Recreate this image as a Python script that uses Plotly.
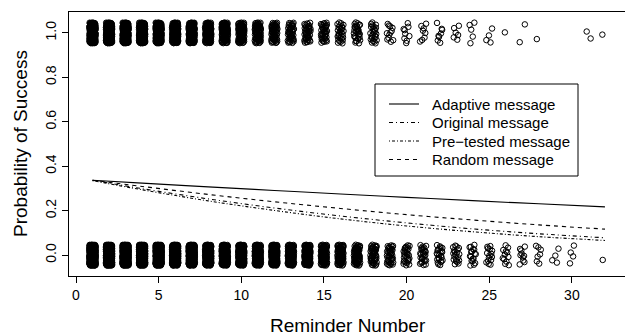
import plotly.graph_objects as go

# ---- data ----
reminder = list(range(1, 33))
success_counts = [180, 170, 160, 150, 140, 130, 120, 110, 100, 90, 70, 55, 45, 40,
                  38, 30, 32, 26, 12, 9, 8, 8, 6, 5, 4, 1, 2, 1, 0, 0, 2, 1]
failure_counts = [350, 330, 310, 290, 270, 250, 230, 210, 190, 175, 160, 145, 130, 115,
                  100, 85, 70, 50, 40, 30, 28, 24, 20, 18, 15, 12, 10, 7, 4, 4, 0, 1]

line_x = [1, 4, 8, 12, 16, 20, 24, 28, 32]
adaptive = [0.337, 0.324, 0.307, 0.291, 0.275, 0.260, 0.245, 0.231, 0.217]
original = [0.337, 0.299, 0.253, 0.212, 0.176, 0.145, 0.118, 0.096, 0.078]
pretested = [0.335, 0.294, 0.244, 0.201, 0.163, 0.131, 0.105, 0.083, 0.066]
random_msg = [0.337, 0.309, 0.273, 0.240, 0.210, 0.182, 0.158, 0.136, 0.117]

x_ticks = [0, 5, 10, 15, 20, 25, 30]
y_ticks = [0.0, 0.2, 0.4, 0.6, 0.8, 1.0]
y_ticktext = ["0.0", "0.2", "0.4", "0.6", "0.8", "1.0"]

# ---- deterministic display jitter (like R's jitter()) ----
def vdc(i, b):
    f, r = 1.0, 0.0
    while i > 0:
        f /= b
        r += f * (i % b)
        i //= b
    return r

XJ, YJ = 0.19, 0.047

def jittered(counts, yval, seed):
    xs, ys = [], []
    for k, n in zip(reminder, counts):
        start = k * 13 + seed
        for j in range(n):
            idx = start + j + 1
            xs.append(k + (vdc(idx, 2) - 0.5) * 2 * XJ)
            ys.append(yval + (vdc(idx, 3) - 0.5) * 2 * YJ)
    return xs, ys

FONT = "Liberation Sans, Arial, Helvetica, sans-serif"
fig = go.Figure()

for counts, yv, sd in [(failure_counts, 0, 3), (success_counts, 1, 7)]:
    xs, ys = jittered(counts, yv, sd)
    fig.add_trace(go.Scatter(
        x=xs, y=ys, mode="markers", showlegend=False, hoverinfo="skip",
        marker=dict(symbol="circle-open", size=5.5, color="#000",
                    line=dict(width=1, color="#000"))))

series = [
    ("Adaptive message", adaptive, "solid"),
    ("Original message", original, "4px,3px,1px,3px"),
    ("Pre\u2212tested message", pretested, "1px,2px,3px,2px"),
    ("Random message", random_msg, "4px,4px"),
]
for name, vals, dash in series:
    fig.add_trace(go.Scatter(
        x=line_x, y=vals, mode="lines", name=name, line_shape="spline",
        showlegend=False, hoverinfo="skip",
        line=dict(color="#000", width=1.1, dash=dash)))

L, T, B = 69, 12, 60
W, H = 625, 336
pw = W - L
ph = H - T - B

def px(xp):
    return (xp - L) / pw

def py(yp):
    return (H - B - yp) / ph

# manual legend in R style (box, line samples, labels)
shapes = [dict(type="rect", xref="paper", yref="paper",
               x0=px(375), x1=px(578), y0=py(176), y1=py(84),
               line=dict(color="#000", width=1), fillcolor="white", layer="above")]
annotations = []
for i, (name, vals, dash) in enumerate(series):
    yrow = 104 + i * 18.5
    shapes.append(dict(type="line", xref="paper", yref="paper",
                       x0=px(389), x1=px(419), y0=py(yrow), y1=py(yrow),
                       line=dict(color="#000", width=1.1, dash=dash), layer="above"))
    annotations.append(dict(text=name, xref="paper", yref="paper", x=px(430), y=py(yrow),
                            showarrow=False, xanchor="left", yanchor="middle",
                            font=dict(size=15, family=FONT, color="#000")))

annotations += [
    dict(text="Reminder Number", xref="paper", yref="paper", x=px(348), y=0,
         yshift=-49, showarrow=False, xanchor="center", yanchor="middle",
         font=dict(size=19, family=FONT, color="#000")),
    dict(text="Probability of Success", xref="paper", yref="paper", x=0, y=0.5,
         xshift=20 - L, showarrow=False, xanchor="center", yanchor="middle",
         textangle=-90, font=dict(size=19, family=FONT, color="#000")),
]

fig.update_layout(
    width=W, height=H,
    margin=dict(l=L, r=0, t=T, b=B, pad=0),
    paper_bgcolor="white", plot_bgcolor="white",
    font=dict(family=FONT, color="#000", size=14),
    showlegend=False,
    xaxis=dict(
        range=[(L - 76) / 16.53, (W - 76) / 16.53],
        tickvals=x_ticks, ticks="outside", ticklen=6, tickcolor="#000",
        showline=True, linecolor="#000", linewidth=1, mirror=True,
        showgrid=False, zeroline=False, tickfont=dict(size=14)),
    yaxis=dict(
        range=[-0.094, 1.094],
        tickvals=y_ticks, ticktext=y_ticktext, tickangle=-90,
        ticks="outside", ticklen=6, tickcolor="#000",
        showline=True, linecolor="#000", linewidth=1, mirror=False,
        showgrid=False, zeroline=False, tickfont=dict(size=14)),
    shapes=shapes,
    annotations=annotations,
)

fig.write_html("out.html", config={"displayModeBar": False},
               post_script="document.body.style.margin='0';document.body.style.padding='0';")
